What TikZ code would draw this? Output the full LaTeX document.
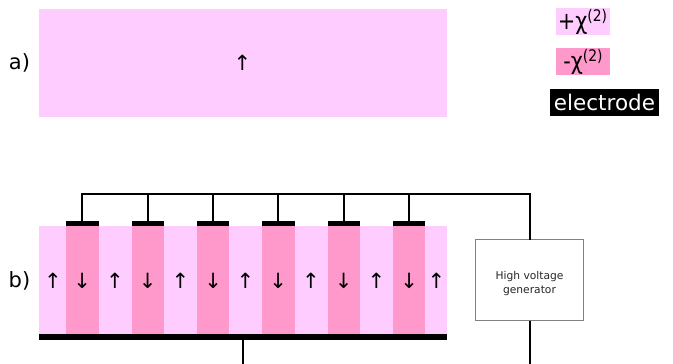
\documentclass[tikz,border=0pt]{standalone}
\usepackage{fontspec}
\setmainfont{DejaVu Sans}
\definecolor{lightp}{HTML}{FFCCFF}
\definecolor{darkp}{HTML}{FF99CC}
\newcommand{\fs}[1]{\fontsize{#1}{#1}\selectfont}
\tikzset{
  every node/.style={inner sep=0pt,outer sep=0pt},
  lightreg/.style={fill=lightp,anchor=north west,minimum width=408pt,minimum height=108.5pt},
  darkreg/.style={fill=darkp,anchor=north west,minimum width=32.5pt,minimum height=108.5pt},
  topel/.style={fill=black,anchor=south,minimum width=32.5pt,minimum height=5.5pt},
  wire/.style={draw=black,line width=2pt},
  arr/.style={font=\fs{21}},
  lab/.style={font=\fs{21}},
  legbox/.style={minimum width=54pt,minimum height=27pt,anchor=north west},
  legtext/.style={font=\fs{24},xscale=0.87,transform shape}
}
\begin{document}
\begin{tikzpicture}[x=1pt,y=-1pt]
\useasboundingbox (0,0) rectangle (673,364);
% a)
\node[lab] (la) at (19.5,62.5) {a)};
\node[lightreg] (ra) at (39,8.5) {};
\node[arr] (aa) at (242.5,63) {↑};
% legend
\node[legbox,fill=lightp] (lp) at (556,8) {};
\node[legtext] (lpt) at (582.5,22) {+χ\raisebox{8pt}{\fs{16}(2)}};
\node[legbox,fill=darkp] (lm) at (556,48) {};
\node[legtext] (lmt) at (583,62) {-χ\raisebox{8pt}{\fs{16}(2)}};
\node[fill=black,text=white,minimum width=109pt,minimum height=27pt,anchor=north west,font=\fs{21.5}] (le) at (550,89) {electrode};
% b)
\node[lab] (lb) at (19.5,280.5) {b)};
\node[lightreg] (rb) at (39,226) {};
\foreach \n/\x in {1/66,2/131.5,3/196.8,4/262,5/327.5,6/392.8}{
  \node[darkreg] (d\n) at (\x,226) {};
  \node[topel] (e\n) at (d\n.north) {};
  \node[arr,yshift=-0.5pt] (ad\n) at (d\n.center) {↓};
}
\foreach \n/\x in {1/53,2/115,3/180.5,4/245.5,5/311,6/376.5,7/436.5}{
  \node[arr] (au\n) at (\x,280.5) {↑};
}
\node[fill=black,anchor=north west,minimum width=408pt,minimum height=6pt] (bot) at (39,334) {};
\node[draw=black!50,line width=0.9pt,fill=white,anchor=north west,minimum width=108pt,minimum height=81pt] (gen) at (475.5,239.5) {};
\node[align=center,font=\fs{10.7},text=black!85] (gentext) at (529.5,283.5) {High voltage\\[3pt]generator};
% wires
\coordinate (bus) at (529.5,193.5);
\coordinate (endl) at (243,364);
\coordinate (endr) at (529.5,364);
\draw[wire] (e1.north) |- (bus) -- (gen.north);
\foreach \n in {2,...,6}{
  \draw[wire] (e\n.north) -- (e\n.north |- bus);
}
\draw[wire] (gen.south) -- (endr);
\draw[wire] (bot.south -| endl) -- (endl);
\end{tikzpicture}
\end{document}
